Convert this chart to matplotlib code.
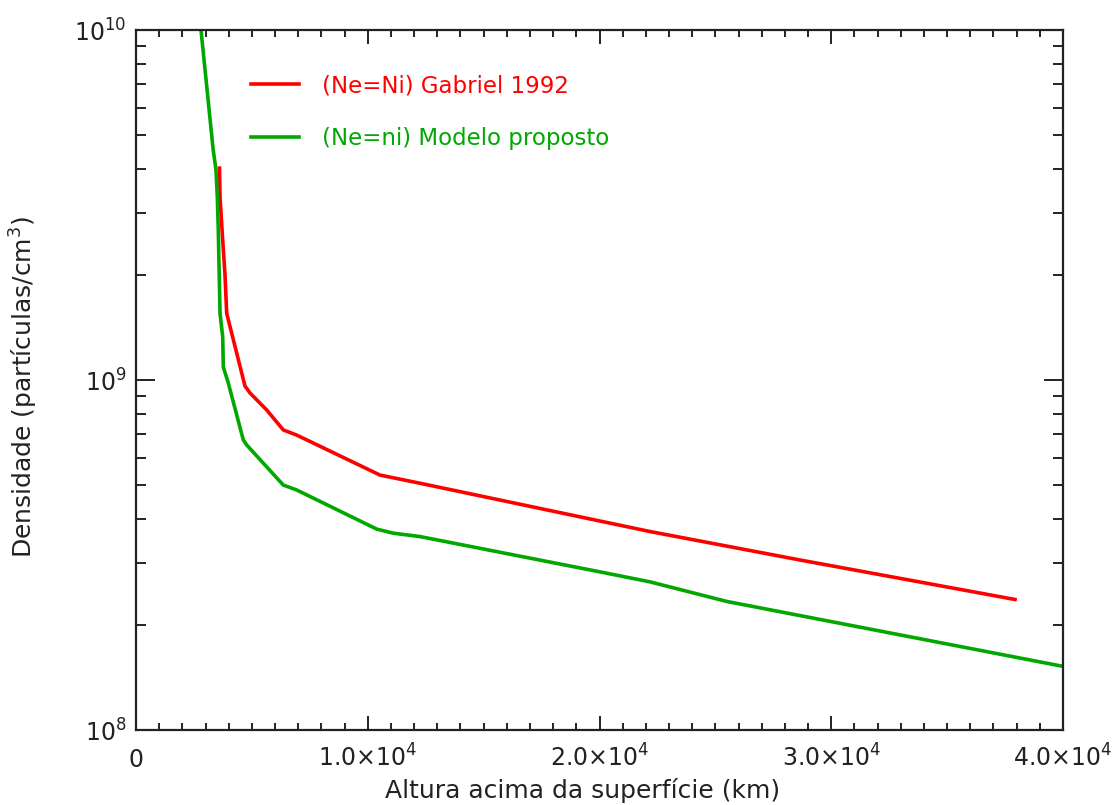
import matplotlib
matplotlib.use("Agg")
import matplotlib.pyplot as plt
from matplotlib.ticker import FixedLocator, MultipleLocator, LogLocator, NullFormatter

# altitude above the surface (km) and plasma density (particles/cm^3)
red_alt = [3603, 3625, 3741, 3840, 3914, 4703, 4919, 5640, 6356, 6934,
           10529, 12255, 22179, 28652, 37929]
red_dens = [4.03e9, 3.33e9, 2.51e9, 2.00e9, 1.55e9, 9.61e8, 9.18e8, 8.21e8, 7.20e8, 6.96e8,
            5.35e8, 5.07e8, 3.69e8, 3.06e8, 2.36e8]

green_alt = [2805, 3331, 3452, 3508, 3551, 3625, 3741, 3767, 3983, 4630,
             4777, 6356, 6934, 10386, 11102, 12255, 20022, 22179, 25489, 40000]
green_dens = [1.00e10, 4.54e9, 3.98e9, 3.34e9, 2.68e9, 1.55e9, 1.33e9, 1.09e9, 9.80e8, 6.74e8,
              6.52e8, 5.01e8, 4.85e8, 3.75e8, 3.65e8, 3.57e8, 2.83e8, 2.65e8, 2.33e8, 1.52e8]

red_label = "(Ne=Ni) Gabriel 1992"
green_label = "(Ne=ni) Modelo proposto"

x_major = [0, 10000, 20000, 30000, 40000]
x_major_labels = ["0", r"1.0$\times$10$^{4}$", r"2.0$\times$10$^{4}$",
                  r"3.0$\times$10$^{4}$", r"4.0$\times$10$^{4}$"]
y_major = [1e8, 1e9, 1e10]
y_major_labels = [r"10$^{8}$", r"10$^{9}$", r"10$^{10}$"]

RED = "#ff0000"
GREEN = "#00a800"
INK = "#222222"

plt.rcParams["font.family"] = ["DejaVu Sans"]
plt.rcParams["mathtext.default"] = "regular"

fig = plt.figure(figsize=(11.15, 8.05), dpi=100)
ax = fig.add_axes([136 / 1115, 75 / 805, 927 / 1115, 700 / 805])

ax.plot(red_alt, red_dens, color=RED, lw=2.6, label=red_label, solid_joinstyle="miter")
ax.plot(green_alt, green_dens, color=GREEN, lw=2.6, label=green_label, solid_joinstyle="miter")

ax.set_yscale("log")
ax.set_xlim(0, 40000)
ax.set_ylim(1e8, 1e10)

ax.xaxis.set_major_locator(FixedLocator(x_major))
ax.xaxis.set_minor_locator(MultipleLocator(1000))
ax.set_xticks(x_major, x_major_labels, va="baseline")
ax.yaxis.set_major_locator(FixedLocator(y_major))
ax.yaxis.set_minor_locator(LogLocator(base=10, subs=range(2, 10)))
ax.yaxis.set_minor_formatter(NullFormatter())
ax.set_yticks(y_major, y_major_labels)

for side in ax.spines.values():
    side.set_linewidth(1.6)
    side.set_color(INK)

ax.tick_params(which="both", direction="in", top=True, right=True, color=INK,
               width=1.4, labelsize=17, labelcolor=INK)
ax.tick_params(axis="x", which="major", length=10, pad=26.5)
ax.tick_params(axis="x", which="minor", length=5)
ax.tick_params(axis="y", which="major", length=13.5, pad=7)
ax.tick_params(axis="y", which="minor", length=7)

ax.set_xlabel("Altura acima da superfície (km)", fontsize=18, color=INK)
ax.xaxis.set_label_coords(0.482, -0.069)
ax.set_ylabel("Densidade (partículas/cm$^{3}$)", fontsize=18, color=INK)
ax.yaxis.set_label_coords(-0.1035, 0.49)

leg = ax.legend(loc="upper left", bbox_to_anchor=(0.124, 0.937), frameon=False,
                fontsize=16.5, handlelength=2.09, handletextpad=0.99, labelspacing=1.31,
                borderpad=0, borderaxespad=0, labelcolor="linecolor")

fig.savefig("out.png", dpi=100)
